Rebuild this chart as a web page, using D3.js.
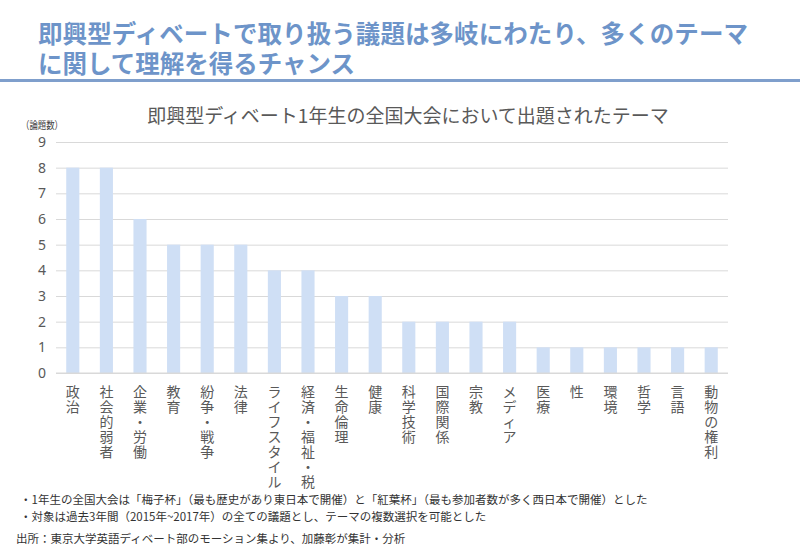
<!DOCTYPE html>
<html><head><meta charset="utf-8">
<script src="https://cdn.jsdelivr.net/npm/d3@7"></script>
<style>
html,body{margin:0;padding:0;background:#fff;}
svg{display:block;font-family:"Noto Sans CJK JP","Noto Sans",sans-serif;}
</style></head>
<body>
<svg id="chart" width="800" height="554"></svg>
<script>
const headerLines = ["即興型ディベートで取り扱う議題は多岐にわたり、多くのテーマ", "に関して理解を得るチャンス"];
const chartTitle = "即興型ディベート1年生の全国大会において出題されたテーマ";
const yAxisLabel = "（論題数）";
const categories = ["政治","社会的弱者","企業・労働","教育","紛争・戦争","法律","ライフスタイル","経済・福祉・税","生命倫理","健康","科学技術","国際関係","宗教","メディア","医療","性","環境","哲学","言語","動物の権利"];
const values = [8,8,6,5,5,5,4,4,3,3,2,2,2,2,1,1,1,1,1,1];
const yTicks = [0,1,2,3,4,5,6,7,8,9];
const notes = [
  "・1年生の全国大会は「梅子杯」（最も歴史があり東日本で開催）と「紅葉杯」（最も参加者数が多く西日本で開催）とした",
  "・対象は過去3年間（2015年~2017年）の全ての議題とし、テーマの複数選択を可能とした"
];
const source = "出所：東京大学英語ディベート部のモーション集より、加藤彰が集計・分析";

const svg = d3.select("#chart");
const blue = "#6d94c9";
const gray = "#595959";

// header
svg.append("text").attr("x",38).attr("y",32).attr("dominant-baseline","central")
  .attr("font-size",24.5).attr("font-weight",700).attr("fill",blue)
  .attr("textLength",710).attr("lengthAdjust","spacing").text(headerLines[0]);
svg.append("text").attr("x",38).attr("y",62).attr("dominant-baseline","central")
  .attr("font-size",24.5).attr("font-weight",700).attr("fill",blue).text(headerLines[1]);
svg.append("rect").attr("x",0).attr("y",79).attr("width",800).attr("height",3).attr("fill","#7f9fcc");

// chart
const x = d3.scaleBand().domain(categories).range([56,728]).paddingInner(0.61).paddingOuter(0.305);
const y = d3.scaleLinear().domain([0,9]).range([373,142]);

svg.append("text").attr("x",408).attr("y",114).attr("text-anchor","middle").attr("dominant-baseline","central")
  .attr("font-size",19).attr("fill",gray).text(chartTitle);
svg.append("text").attr("x",21).attr("y",124).attr("dominant-baseline","central")
  .attr("font-size",10.5).attr("fill","#404040").attr("textLength",42).attr("lengthAdjust","spacingAndGlyphs").text(yAxisLabel);

const yAxis = d3.axisLeft(y).tickValues(yTicks).tickSize(-(728-56)).tickPadding(10);
const gy = svg.append("g").attr("transform","translate(56,0)").call(yAxis);
gy.select(".domain").remove();
gy.selectAll(".tick line").attr("stroke","#d9d9d9").attr("stroke-width",1);
gy.selectAll(".tick text").attr("font-size",14).attr("fill",gray)
  .attr("font-family","'Noto Sans','Liberation Sans',sans-serif");

svg.append("g").selectAll("rect").data(values).join("rect")
  .attr("x",(d,i)=>x(categories[i])).attr("width",x.bandwidth())
  .attr("y",d=>y(d)).attr("height",d=>y(0)-y(d)).attr("fill","#cfdff5");

svg.append("line").attr("x1",56).attr("x2",728).attr("y1",y(0)).attr("y2",y(0)).attr("stroke","#d9d9d9");

// vertical x labels (stacked characters)
const lab = svg.append("g").selectAll("text").data(categories).join("text")
  .attr("font-size",14).attr("fill",gray).attr("text-anchor","middle");
lab.each(function(c){
  const t = d3.select(this);
  const cx = x(c)+x.bandwidth()/2;
  Array.from(c).forEach((ch,j)=>{
    t.append("tspan").attr("x",cx).attr("y",391+j*15).attr("dominant-baseline","central").text(ch);
  });
});

// notes
notes.forEach((n,i)=>{
  svg.append("text").attr("x",20).attr("y",499+i*17).attr("dominant-baseline","central")
    .attr("font-size",11.5).attr("fill","#333").text(n);
});
svg.append("text").attr("x",16).attr("y",538).attr("dominant-baseline","central")
  .attr("font-size",11.5).attr("fill","#333").text(source);
</script>
</body></html>
